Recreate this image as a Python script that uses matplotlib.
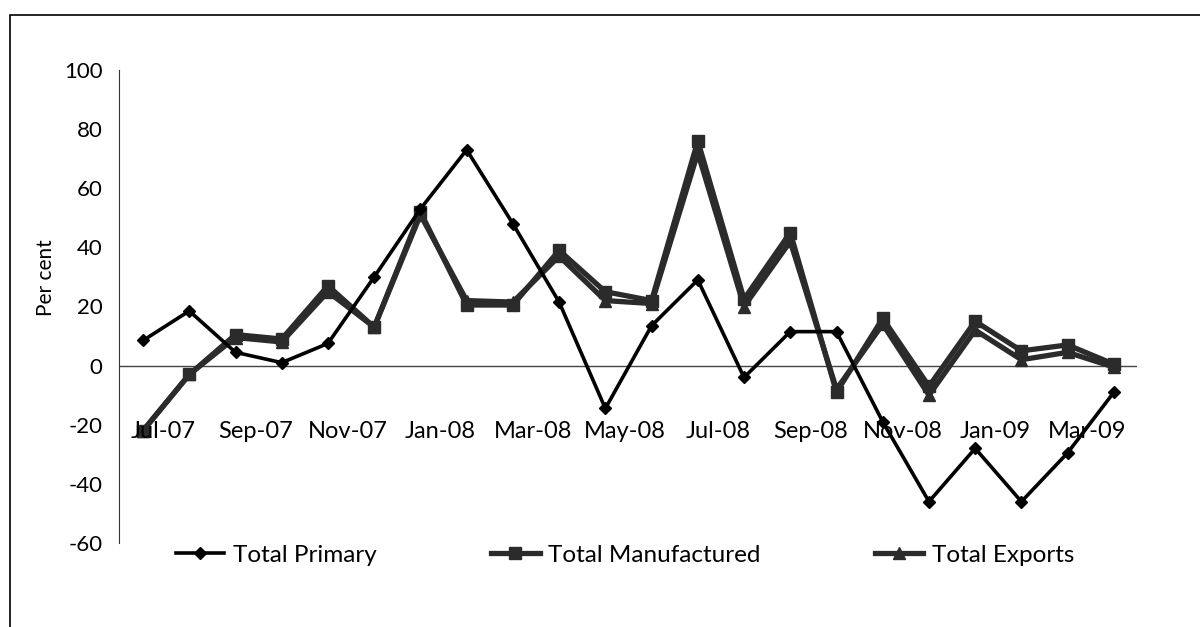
import matplotlib.pyplot as plt
from matplotlib.patches import Rectangle

months = ['Jul-07', 'Aug-07', 'Sep-07', 'Oct-07', 'Nov-07', 'Dec-07', 'Jan-08', 'Feb-08',
          'Mar-08', 'Apr-08', 'May-08', 'Jun-08', 'Jul-08', 'Aug-08', 'Sep-08', 'Oct-08',
          'Nov-08', 'Dec-08', 'Jan-09', 'Feb-09', 'Mar-09', 'Apr-09']
# only every second month is labelled on the axis
shown_labels = ['Jul-07', 'Sep-07', 'Nov-07', 'Jan-08', 'Mar-08', 'May-08', 'Jul-08',
                'Sep-08', 'Nov-08', 'Jan-09', 'Mar-09']

primary = [8.5, 18.5, 4.5, 1, 7.5, 30, 53, 73, 48, 21.5, -14.5, 13.5, 29, -4,
           11.5, 11.5, -19, -46, -28, -46, -29.5, -9]
manufactured = [-22, -3, 10.5, 9, 27, 13, 52, 20.5, 20.5, 39, 25, 22, 76, 22.5,
                45, -9, 16, -7, 15, 5, 7, 0.5]
exports = [-22, -3, 9.5, 8, 25, 13, 51, 22, 21.5, 37, 22, 21, 72, 20,
           42, -8, 14, -10, 12, 2, 4.5, -0.5]

plt.rcParams['font.family'] = ['Lato', 'DejaVu Sans']
plt.rcParams['axes.unicode_minus'] = False

fig = plt.figure(figsize=(12, 6.27), dpi=100)
ax = fig.add_axes([119/1200, 1 - 543/627, (1137 - 119)/1200, (543 - 70)/627])

x = list(range(len(months)))
gray = '#2b2b2b'
ax.plot(x, manufactured, color=gray, lw=3.8, marker='s', ms=8, label='Total Manufactured', zorder=2)
ax.plot(x, exports, color=gray, lw=3.8, marker='^', ms=9, label='Total Exports', zorder=2)
ax.plot(x, primary, color='black', lw=2.6, marker='D', ms=6.5, label='Total Primary', zorder=3)

ax.axhline(0, color='#444444', lw=1, zorder=1)

ax.set_xlim(-0.52, 21.5)
ax.set_ylim(-60, 100)
ax.set_yticks(range(-60, 101, 20))
ax.tick_params(axis='y', length=0, pad=12, labelsize=16)
ax.set_xticks([])
for s in ['top', 'right', 'bottom']:
    ax.spines[s].set_visible(False)
ax.spines['left'].set_color('#333333')
ax.set_ylabel('Per cent', fontsize=15)
ax.yaxis.set_label_coords(-0.062, 0.562)

# month labels sit inside the plot area, a bit below zero
for lab in shown_labels:
    i = months.index(lab)
    ax.text(i + 0.43, -22.3, lab, ha='center', va='center', fontsize=17, zorder=4)

handles, labels = ax.get_legend_handles_labels()
order = [2, 0, 1]
fig.legend([handles[k] for k in order], [labels[k] for k in order],
           loc='center', bbox_to_anchor=(625/1200, 1 - 555/627), ncol=3, frameon=False,
           fontsize=17.5, handlelength=2.0, handletextpad=0.35, columnspacing=4.7)

# outer frame
fig.patches.append(Rectangle((10/1200, -0.1), 1.2, 1 - 15/627 + 0.1, transform=fig.transFigure,
                             fill=False, edgecolor='black', lw=1.2))

fig.savefig('out.png', dpi=100)
